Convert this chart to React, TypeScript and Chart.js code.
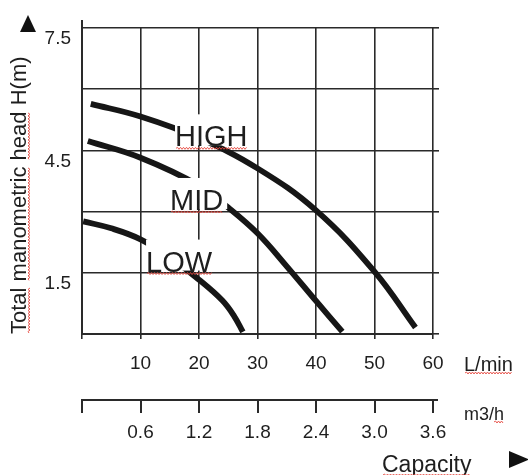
import React, { useEffect, useRef } from 'react';
import { Chart, registerables } from 'chart.js';

Chart.register(...registerables);

const FONT = "'Liberation Sans', Arial, Helvetica, sans-serif";
const INK = '#1e1e1e';
const GRID = '#2a2a2a';
const CURVE = '#161616';

// Pump curves: capacity (L/min) vs total manometric head (m)
const highFlow = [1.5, 10, 20, 30, 40, 50, 57];
const highHead = [5.64, 5.33, 4.8, 4.06, 3.03, 1.53, 0.16];
const midFlow = [1, 10, 20, 25, 30, 35, 40, 44.5];
const midHead = [4.73, 4.32, 3.64, 3.1, 2.47, 1.66, 0.81, 0.06];
const lowFlow = [0.2, 5, 10, 15, 20, 24, 26, 27.5];
const lowHead = [2.76, 2.59, 2.32, 1.88, 1.33, 0.82, 0.44, 0.05];

const curveNames = ['HIGH', 'MID', 'LOW'];
const headTickLabels = [1.5, 4.5, 7.5];
const lpmTickLabels = [10, 20, 30, 40, 50, 60];
const m3hTickLabels = [0.6, 1.2, 1.8, 2.4, 3.0, 3.6];

// where each curve name is written (data coordinates)
const labelAnchors = [
  { x: 15.9, y: 4.6 },
  { x: 15.05, y: 3.04 },
  { x: 10.95, y: 1.53 },
];

const toPoints = (xs: number[], ys: number[]) => xs.map((x, i) => ({ x, y: ys[i] }));
const near = (list: number[], v: number) => list.find((t) => Math.abs(t - v) < 1e-6);

function squiggle(ctx: CanvasRenderingContext2D, x0: number, x1: number, y: number) {
  ctx.save();
  ctx.strokeStyle = '#e5483f';
  ctx.lineWidth = 0.9;
  ctx.beginPath();
  let up = true;
  ctx.moveTo(x0, y);
  for (let x = x0 + 1.5; x <= x1; x += 1.5) {
    ctx.lineTo(x, y + (up ? -1 : 1));
    up = !up;
  }
  ctx.stroke();
  ctx.restore();
}

const decor = {
  id: 'decor',
  afterDraw(chart: any) {
    const { ctx, chartArea: ca, scales } = chart;
    const xs = scales.x;
    const ys = scales.y;
    const x2 = scales.x2;
    ctx.save();

    // axis extensions
    ctx.strokeStyle = GRID;
    ctx.lineWidth = 2;
    ctx.beginPath();
    ctx.moveTo(ca.left, ca.top - 8);
    ctx.lineTo(ca.left, ca.top);
    ctx.stroke();
    ctx.beginPath();
    ctx.moveTo(ca.right, x2.top);
    ctx.lineTo(ca.right + 5, x2.top);
    ctx.stroke();

    // curve names with white backing
    ctx.font = `29px ${FONT}`;
    ctx.textBaseline = 'alphabetic';
    ctx.textAlign = 'left';
    curveNames.forEach((name, i) => {
      const px = xs.getPixelForValue(labelAnchors[i].x);
      const py = ys.getPixelForValue(labelAnchors[i].y);
      const w = ctx.measureText(name).width;
      ctx.fillStyle = '#ffffff';
      ctx.fillRect(px, py - 32, w + 4, 31);
      ctx.fillStyle = INK;
      ctx.fillText(name, px, py);
      squiggle(ctx, px + 1, px + w, py + 2);
    });

    // unit labels
    ctx.fillStyle = INK;
    ctx.font = `20px ${FONT}`;
    const lx = ca.right + 31;
    ctx.fillText('L/min', lx, xs.top + 37);
    squiggle(ctx, lx + 1, lx + ctx.measureText('L/min').width, xs.top + 39);
    ctx.font = `18px ${FONT}`;
    ctx.fillText('m3/h', lx, x2.top + 20);
    const wm = ctx.measureText('m3/').width;
    const wh = ctx.measureText('h').width;
    squiggle(ctx, lx + wm, lx + wm + wh, x2.top + 22);
    ctx.font = `23px ${FONT}`;
    const cx = ca.right - 51;
    ctx.fillText('Capacity', cx, x2.bottom + 27);
    squiggle(ctx, cx + 1, cx + ctx.measureText('Capacity').width, x2.bottom + 30);

    // squiggles along the vertical title words
    ctx.font = `22px ${FONT}`;
    ctx.save();
    ctx.translate(29, ca.bottom);
    ctx.rotate(-Math.PI / 2);
    const sp = ctx.measureText(' ').width;
    let off = 0;
    ['Total', 'manometric', 'head'].forEach((wd) => {
      const ww = ctx.measureText(wd).width;
      squiggle(ctx, off + 1, off + ww, 0);
      off += ww + sp;
    });
    ctx.restore();

    // arrows
    ctx.fillStyle = '#111';
    ctx.beginPath();
    ctx.moveTo(28, ca.top - 13);
    ctx.lineTo(20, ca.top + 4);
    ctx.lineTo(36, ca.top + 4);
    ctx.closePath();
    ctx.fill();
    const ay = x2.bottom + 14.5;
    ctx.beginPath();
    ctx.moveTo(509, ay - 8.5);
    ctx.lineTo(509, ay + 8.5);
    ctx.lineTo(529, ay);
    ctx.closePath();
    ctx.fill();

    ctx.restore();
  },
};

export default function App() {
  const ref = useRef<HTMLCanvasElement>(null);

  useEffect(() => {
    const canvas = ref.current;
    if (!canvas) return;
    const tickFont = { family: FONT, size: 19 };
    const ds = (data: { x: number; y: number }[]) => ({
      data,
      borderColor: CURVE,
      borderWidth: 5.8,
      pointRadius: 0,
      fill: false,
      tension: 0.4,
      xAxisID: 'x',
      yAxisID: 'y',
    });
    const chart = new Chart(canvas, {
      type: 'line',
      data: {
        datasets: [
          { label: curveNames[0], ...ds(toPoints(highFlow, highHead)) },
          { label: curveNames[1], ...ds(toPoints(midFlow, midHead)) },
          { label: curveNames[2], ...ds(toPoints(lowFlow, lowHead)) },
        ],
      },
      options: {
        animation: false,
        responsive: false,
        events: [],
        layout: { padding: { left: 0, top: 28, right: 89, bottom: 30 } },
        plugins: { legend: { display: false }, tooltip: { enabled: false } },
        scales: {
          x: {
            type: 'linear',
            position: 'bottom',
            min: 0,
            max: 60,
            afterFit: (s: any) => {
              s.height = 66;
            },
            grid: { color: GRID, lineWidth: 1.6, tickLength: 5, drawTicks: true },
            border: { display: true, color: GRID, width: 2 },
            ticks: {
              stepSize: 10,
              padding: 13,
              color: INK,
              font: tickFont,
              maxRotation: 0,
              autoSkip: false,
              callback: (v: any) => {
                const m = near(lpmTickLabels, Number(v));
                return m === undefined ? '' : String(m);
              },
            },
          },
          x2: {
            type: 'linear',
            position: 'bottom',
            min: 0,
            max: 3.6,
            afterFit: (s: any) => {
              s.height = 45;
            },
            grid: { drawOnChartArea: false, color: GRID, lineWidth: 2, tickLength: 13 },
            border: { display: true, color: GRID, width: 2 },
            ticks: {
              stepSize: 0.6,
              padding: 8,
              color: INK,
              font: tickFont,
              maxRotation: 0,
              autoSkip: false,
              callback: (v: any) => {
                const m = near(m3hTickLabels, Number(v));
                return m === undefined ? '' : m.toFixed(1);
              },
            },
          },
          y: {
            type: 'linear',
            position: 'left',
            min: 0,
            max: 7.5,
            afterFit: (s: any) => {
              s.width = 82;
            },
            grid: { color: GRID, lineWidth: 1.6, drawTicks: false },
            border: { display: true, color: GRID, width: 2 },
            ticks: {
              stepSize: 1.5,
              padding: 11,
              labelOffset: 11,
              color: INK,
              font: tickFont,
              callback: (v: any) => {
                const m = near(headTickLabels, Number(v));
                return m === undefined ? '' : m.toFixed(1);
              },
            },
            title: {
              display: true,
              text: 'Total manometric head H(m)',
              align: 'start',
              color: INK,
              font: { family: FONT, size: 22 },
              padding: { top: 7, bottom: 0 },
            },
          },
          y2: {
            type: 'linear',
            position: 'right',
            min: 0,
            max: 7.5,
            afterFit: (s: any) => {
              s.width = 6;
            },
            grid: { drawOnChartArea: false, color: GRID, lineWidth: 1.6, tickLength: 6 },
            border: { display: false },
            ticks: { stepSize: 1.5, display: false },
          },
        },
      } as any,
      plugins: [decor],
    });
    return () => chart.destroy();
  }, []);

  return (
    <div style={{ position: 'fixed', left: 0, top: 0, width: 528, height: 475, background: '#fff' }}>
      <canvas ref={ref} width={528} height={475} style={{ display: 'block', width: 528, height: 475 }} />
    </div>
  );
}
